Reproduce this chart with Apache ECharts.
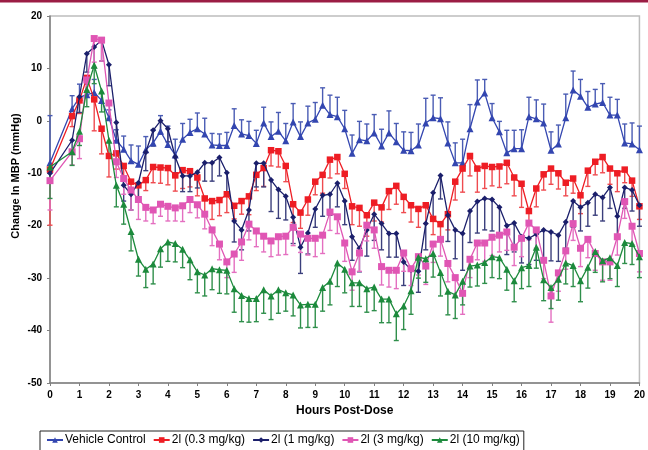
<!DOCTYPE html>
<html>
<head>
<meta charset="utf-8">
<script src="https://cdn.jsdelivr.net/npm/echarts@6/dist/echarts.min.js"></script>
<style>
  html, body { margin: 0; padding: 0; background: #fff; }
  #chart { width: 648px; height: 450px; }
</style>
</head>
<body>
<div id="chart"></div>
<script>
// Sampling times (hours post-dose)
const hours = [0, 0.75, 1, 1.25, 1.5, 1.75, 2, 2.25, 2.5, 2.75, 3, 3.25, 3.5, 3.75, 4, 4.25, 4.5, 4.75,
  5, 5.25, 5.5, 5.75, 6, 6.25, 6.5, 6.75, 7, 7.25, 7.5, 7.75, 8, 8.25, 8.5, 8.75, 9, 9.25, 9.5, 9.75,
  10, 10.25, 10.5, 10.75, 11, 11.25, 11.5, 11.75, 12, 12.25, 12.5, 12.75, 13, 13.25, 13.5, 13.75,
  14, 14.25, 14.5, 14.75, 15, 15.25, 15.5, 15.75, 16, 16.25, 16.5, 16.75, 17, 17.25, 17.5, 17.75,
  18, 18.25, 18.5, 18.75, 19, 19.25, 19.5, 19.75, 20];

const seriesNames = ['Vehicle Control', '2l (0.3 mg/kg)', '2l (1 mg/kg)', '2l (3 mg/kg)', '2l (10 mg/kg)'];

// Mean change in MBP (mmHg)
const vehicle = [-8.0, 2.3, 4.5, 5.0, 5.4, 3.9, 0.6, -3.7, -5.4, -7.6, -8.3, -5.5, -4.2, -2.0, -4.5, -6.5, -3.5, -2.2,
  -1.5, -2.5, -4.6, -4.7, -4.7, -0.9, -2.5, -2.8, -4.3, -0.4, -3.0, -2.0, -3.8, -0.2, -3.0, -0.4, 0.3, 3.0, 1.2, 0.8,
  -1.5, -6.2, -3.6, -3.8, -2.3, -4.8, -2.3, -4.0, -5.6, -5.7, -4.6, -0.4, 0.6, 0.4, -4.2, -8.0,
  -8.0, -1.5, 3.6, 5.3, 0.6, -2.1, -6.1, -5.3, -5.3, 0.8, 0.4, -0.4, -5.6, -4.4, 0.6, 5.9,
  4.7, 2.6, 3.2, 3.5, 1.1, 1.1, -4.2, -4.4, -5.5];
const dose03 = [-9.3, 0.9, 3.9, 8.2, 4.1, -1.5, -6.7, -6.2, -8.6, -11.6, -12.3, -11.3, -8.8, -8.9, -9.0, -10.4, -9.4, -9.6,
  -10.8, -14.8, -15.3, -15.1, -14.0, -16.2, -15.3, -14.4, -10.3, -9.0, -5.6, -5.8, -8.6, -15.9, -17.5, -15.0, -11.6, -10.3, -7.4, -6.9,
  -10.1, -16.3, -16.6, -18.0, -15.6, -16.5, -13.4, -12.4, -14.5, -16.1, -16.8, -16.1, -18.7, -19.7, -17.8, -11.6,
  -9.1, -6.7, -9.1, -8.6, -8.8, -8.7, -8.0, -10.8, -12.0, -17.2, -12.9, -10.2, -9.1, -10.0, -11.8, -11.0,
  -14.2, -9.5, -7.8, -6.9, -9.1, -10.0, -9.3, -11.4, -16.3];
const dose1 = [-10.0, -3.7, 4.6, 12.8, 14.1, 15.4, 10.7, -0.3, -12.3, -14.0, -11.8, -6.0, -1.8, 0.0, -1.5, -6.9, -10.5, -10.5,
  -9.8, -8.0, -8.0, -7.0, -9.9, -19.1, -20.8, -17.0, -8.1, -8.1, -11.3, -13.1, -14.4, -18.4, -24.1, -21.4, -16.8, -14.2, -14.0, -11.9,
  -15.3, -22.1, -24.3, -20.8, -17.8, -19.6, -21.5, -21.5, -26.9, -28.4, -28.7, -19.6, -13.7, -10.4, -18.0, -20.8,
  -21.5, -17.2, -15.4, -14.8, -15.0, -16.5, -20.0, -19.5, -22.1, -22.4, -21.6, -20.8, -21.2, -21.8, -19.3, -15.3,
  -16.5, -15.6, -14.0, -14.6, -12.7, -18.2, -12.7, -13.2, -16.1];
const dose3 = [-11.4, -5.9, -3.4, 7.8, 15.7, 15.4, 3.4, -7.8, -11.0, -13.2, -15.0, -16.5, -17.0, -15.9, -16.3, -16.6, -16.2, -15.0,
  -16.0, -17.8, -20.8, -23.5, -26.9, -25.4, -23.1, -19.7, -21.0, -22.0, -22.9, -22.1, -22.0, -20.3, -21.6, -22.4, -22.4, -21.8, -17.4, -18.3,
  -23.3, -28.8, -25.2, -19.9, -20.8, -27.8, -28.5, -28.5, -25.2, -28.2, -25.9, -27.7, -23.5, -22.6, -27.2, -29.9,
  -32.9, -26.4, -23.3, -23.3, -22.2, -21.8, -21.2, -24.1, -22.4, -19.5, -20.8, -26.6, -33.4, -29.0, -24.8, -19.6,
  -24.3, -22.6, -25.3, -26.9, -26.9, -22.1, -15.4, -20.1, -25.3];
const dose10 = [-8.8, -5.9, -2.0, 6.0, 10.6, 5.7, -3.7, -12.3, -15.9, -21.1, -26.4, -28.3, -27.3, -24.4, -23.1, -23.4, -24.5, -26.5,
  -28.8, -29.4, -28.2, -28.4, -28.5, -32.0, -33.3, -33.9, -33.9, -32.2, -33.4, -32.2, -32.8, -33.2, -35.1, -35.0, -35.0, -31.8, -30.6, -27.1,
  -28.3, -30.9, -30.9, -32.0, -31.7, -34.0, -34.0, -36.8, -35.3, -32.4, -26.0, -26.3, -25.3, -28.9, -32.5, -33.2,
  -30.6, -27.7, -27.5, -27.0, -25.9, -26.1, -28.3, -30.5, -28.0, -27.6, -24.1, -30.3, -31.8, -30.2, -27.1, -27.6,
  -30.5, -27.9, -24.9, -26.7, -26.1, -27.6, -23.2, -23.4, -25.9];

// Error (SEM) magnitudes
const vehicleErr = [9.0, 2.5, 2.5, 2.0, 2.5, 1.5, 1.5, 2.0, 2.5, 3.0, 3.5, 2.5, 2.5, 3.0, 3.5, 3.0, 3.0, 2.5,
  3.0, 3.0, 2.2, 2.2, 2.5, 3.2, 2.7, 2.7, 2.5, 3.0, 2.8, 3.6, 3.3, 3.5, 2.8, 3.2, 3.2, 3.3, 3.7, 3.7,
  3.5, 3.5, 3.5, 3.2, 3.5, 3.2, 4.2, 3.5, 3.5, 3.5, 4.0, 4.7, 4.3, 4.0, 4.0, 3.8,
  4.5, 4.6, 4.2, 2.6, 2.7, 2.0, 4.3, 3.5, 3.6, 3.7, 3.6, 3.6, 3.5, 3.6, 4.5, 3.6,
  3.2, 3.0, 2.8, 3.6, 3.4, 3.0, 3.6, 4.0, 4.5];
const dose03Err = [10.6, 2.0, 2.5, 2.5, 6.0, 4.8, 4.0, 3.0, 2.5, 1.5, 2.5, 2.0, 3.0, 3.0, 3.2, 3.0, 3.5, 3.0,
  3.5, 3.0, 3.5, 3.0, 3.5, 2.5, 2.5, 3.5, 3.0, 3.5, 3.0, 3.0, 3.0, 3.5, 3.0, 3.0, 2.5, 3.5, 3.5, 3.2,
  2.8, 3.5, 3.5, 4.0, 3.5, 2.8, 3.5, 3.5, 3.0, 3.2, 3.5, 3.5, 3.0, 3.0, 3.0, 3.5,
  4.5, 3.8, 4.5, 4.3, 3.6, 4.0, 4.0, 3.5, 4.5, 2.5, 3.5, 3.0, 3.0, 3.0, 2.5, 2.8,
  3.5, 3.0, 2.5, 3.0, 3.0, 3.5, 2.5, 3.0, 2.5];
const dose1Err = [1.5, 2.5, 3.0, 3.5, 4.0, 4.0, 4.0, 3.5, 3.0, 3.0, 3.5, 3.5, 3.0, 2.5, 2.5, 3.0, 3.0, 3.0,
  3.0, 3.5, 3.5, 3.5, 4.0, 4.0, 3.8, 4.0, 4.5, 4.5, 6.0, 5.5, 4.5, 5.0, 5.0, 4.0, 3.5, 4.0, 4.0, 4.5,
  4.5, 4.5, 4.5, 5.0, 5.0, 5.0, 4.5, 4.5, 4.5, 4.5, 4.0, 5.0, 5.0, 4.5, 5.0, 5.5,
  7.0, 6.0, 6.0, 6.0, 6.0, 5.5, 5.5, 5.5, 5.0, 5.0, 5.0, 5.5, 5.5, 5.0, 5.0, 5.0,
  4.5, 4.5, 4.0, 4.5, 4.0, 4.0, 4.0, 4.0, 4.0];
const dose3Err = [5.6, 2.5, 3.8, 3.0, 4.5, 4.0, 3.0, 3.0, 3.0, 3.8, 3.8, 2.6, 2.6, 2.3, 2.8, 2.5, 3.0, 2.5,
  2.5, 2.8, 3.0, 3.0, 3.0, 3.5, 3.5, 3.0, 3.0, 3.0, 3.0, 3.5, 3.5, 3.5, 3.5, 3.2, 3.5, 3.5, 3.5, 3.2,
  3.5, 3.5, 3.5, 3.0, 3.5, 3.5, 3.2, 3.5, 3.5, 3.2, 3.5, 3.5, 3.5, 3.2, 3.5, 3.5,
  4.0, 3.5, 3.2, 3.5, 3.5, 3.2, 3.5, 3.5, 3.5, 3.2, 3.5, 3.5, 5.0, 3.5, 3.5, 3.2,
  3.5, 3.5, 3.2, 3.5, 3.5, 3.5, 3.2, 3.5, 3.5];
const dose10Err = [6.0, 2.6, 2.7, 3.3, 3.5, 4.0, 3.2, 4.1, 3.8, 3.7, 3.2, 3.5, 3.8, 3.5, 3.7, 3.5, 3.5, 3.8,
  4.0, 4.0, 4.0, 4.5, 4.5, 4.5, 5.0, 4.5, 4.4, 4.5, 4.5, 4.5, 3.5, 4.0, 4.4, 4.4, 4.4, 4.5, 4.5, 4.5,
  4.5, 4.5, 4.5, 4.5, 4.5, 4.5, 4.5, 5.1, 4.5, 4.5, 4.0, 4.5, 4.5, 4.5, 4.5, 4.5,
  4.5, 4.0, 4.0, 4.0, 4.0, 4.0, 4.0, 4.0, 4.0, 4.0, 4.0, 4.0, 4.0, 4.0, 4.0, 4.0,
  4.0, 4.0, 4.0, 4.0, 4.0, 4.0, 4.0, 4.0, 4.0];

// Axis ticks
const xTicks = { min: 0, max: 20, step: 1 };
const yTicks = { min: -50, max: 20, step: 10 };

const styles = [
  { values: vehicle, errs: vehicleErr, dir: 1,  color: '#3346b0', barColor: '#4a5cb4', symbol: 'triangle', size: 7 },
  { values: dose03,  errs: dose03Err,  dir: -1, color: '#ee1d24', barColor: '#ef4b50', symbol: 'rect',     size: 6.5 },
  { values: dose1,   errs: dose1Err,   dir: -1, color: '#1b1f6b', barColor: '#3b3f7c', symbol: 'diamond',  size: 6 },
  { values: dose3,   errs: dose3Err,   dir: -1, color: '#e056b4', barColor: '#e46fc0', symbol: 'rect',     size: 7 },
  { values: dose10,  errs: dose10Err,  dir: -1, color: '#1c8a3c', barColor: '#2f8f4b', symbol: 'triangle', size: 7 }
];

function errorBarSeries(st, idx) {
  return {
    type: 'custom',
    name: seriesNames[idx] + ' SEM',
    silent: true,
    z: 2,
    data: hours.map((h, i) => [h, st.values[i], st.values[i] + st.dir * st.errs[i]]),
    encode: { x: 0, y: [1, 2] },
    renderItem: function (params, api) {
      const p0 = api.coord([api.value(0), api.value(1)]);
      const p1 = api.coord([api.value(0), api.value(2)]);
      const hw = 2.5;
      const s = { stroke: st.barColor, lineWidth: 1.4 };
      return {
        type: 'group',
        children: [
          { type: 'line', shape: { x1: p0[0], y1: p0[1], x2: p1[0], y2: p1[1] }, style: s },
          { type: 'line', shape: { x1: p1[0] - hw, y1: p1[1], x2: p1[0] + hw, y2: p1[1] }, style: s }
        ]
      };
    }
  };
}

function lineSeries(st, idx) {
  return {
    type: 'line',
    name: seriesNames[idx],
    data: hours.map((h, i) => [h, st.values[i]]),
    symbol: st.symbol,
    symbolSize: st.size,
    showAllSymbol: true,
    z: 3 + idx,
    lineStyle: { color: st.color, width: 1.3 },
    itemStyle: { color: st.color },
    emphasis: { disabled: true }
  };
}

const series = [];
styles.forEach((st, i) => series.push(errorBarSeries(st, i)));
styles.forEach((st, i) => series.push(lineSeries(st, i)));

const fontFamily = 'Liberation Sans, Arial, sans-serif';
const axisFont = { fontFamily: fontFamily, fontWeight: 'bold', fontSize: 10, color: '#000' };

const chart = echarts.init(document.getElementById('chart'), null, { renderer: 'canvas' });
chart.setOption({
  animation: false,
  backgroundColor: '#fff',
  graphic: [
    { type: 'rect', shape: { x: 0, y: 0, width: 648, height: 2.5 }, style: { fill: '#9b1d44' }, z: 100 },
    {
      type: 'text', x: 16, y: 176, rotation: Math.PI / 2, z: 100,
      style: { text: 'Change In MBP (mmHg)', fontFamily: fontFamily, fontWeight: 'bold', fontSize: 11,
               fill: '#000', align: 'center', verticalAlign: 'middle' }
    }
  ],
  grid: { left: 50, right: 3, top: 16, bottom: 67, show: true, borderColor: '#bdbdbd', borderWidth: 1.5 },
  legend: {
    data: seriesNames,
    left: 40,
    top: 431,
    itemWidth: 16,
    itemHeight: 7,
    itemGap: 7,
    padding: [3, 4, 8, 6],
    borderColor: '#222',
    borderWidth: 1,
    textStyle: { fontFamily: fontFamily, fontSize: 12, color: '#000', padding: [0, 0, 0, -3] }
  },
  xAxis: {
    type: 'value',
    min: xTicks.min, max: xTicks.max, interval: xTicks.step,
    name: 'Hours Post-Dose',
    nameLocation: 'middle',
    nameGap: 22,
    nameTextStyle: { fontFamily: fontFamily, fontWeight: 'bold', fontSize: 12, color: '#000' },
    axisLine: { show: true, onZero: false, lineStyle: { color: '#808080', width: 1.5 } },
    axisTick: { show: true, length: 3, lineStyle: { color: '#808080' } },
    axisLabel: Object.assign({ margin: 7 }, axisFont),
    splitLine: { show: false }
  },
  yAxis: {
    type: 'value',
    min: yTicks.min, max: yTicks.max, interval: yTicks.step,
    axisLine: { show: true, onZero: false, lineStyle: { color: '#808080', width: 1.5 } },
    axisTick: { show: true, length: 3, lineStyle: { color: '#808080' } },
    axisLabel: Object.assign({ margin: 8 }, axisFont),
    splitLine: { show: false }
  },
  series: series
});
</script>
</body>
</html>
